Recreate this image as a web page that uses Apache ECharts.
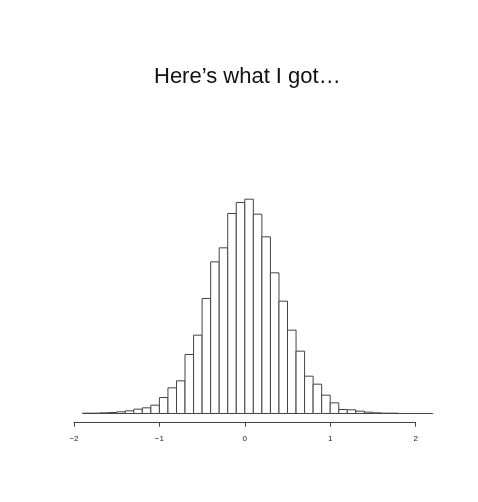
<!DOCTYPE html>
<html><head><meta charset="utf-8">
<script src="https://cdn.jsdelivr.net/npm/echarts@6/dist/echarts.min.js"></script>
<style>html,body{margin:0;padding:0;background:#fff}#c{width:478px;height:502px}</style>
</head><body><div id="c"></div>
<script>
// bin lower edges (width 0.1) and bar heights
const binStarts = [-1.9,-1.8,-1.7,-1.6,-1.5,-1.4,-1.3,-1.2,-1.1,-1.0,-0.9,-0.8,-0.7,-0.6,-0.5,-0.4,-0.3,-0.2,-0.1,
  0.0,0.1,0.2,0.3,0.4,0.5,0.6,0.7,0.8,0.9,1.0,1.1,1.2,1.3,1.4,1.5,1.6,1.7,1.8,1.9,2.0,2.1];
const counts = [1,1,2,3,5,8,13,17,25,48,77,98,177,235,345,455,497,600,633,
  643,598,530,422,337,250,187,112,88,55,32,12,11,7,4,2,1,1,0,0,0,0];
const binWidth = 0.1;
const tickValues = [-2,-1,0,1,2];
const title = 'Here\u2019s what I got\u2026';

const data = binStarts.map((s,i)=>[s, s+binWidth, counts[i]]);
const chart = echarts.init(document.getElementById('c'));
const lineColor = '#444';
chart.setOption({
  backgroundColor:'#fff',
  animation:false,
  title:{text:title,left:149,top:61,
    textStyle:{fontFamily:'Liberation Sans, Arial, sans-serif',fontSize:22,fontWeight:'normal',color:'#111'}},
  grid:[
    {left:74,width:358.7,top:198.5,height:215,containLabel:false},
    {left:74,width:341.6,top:300,height:122.7,containLabel:false}
  ],
  xAxis:[
    {gridIndex:0,type:'value',min:-2,max:2.2,show:false},
    {gridIndex:1,type:'value',min:-2,max:2,interval:1,
      axisLine:{show:true,lineStyle:{color:lineColor,width:1}},
      axisTick:{show:true,length:4,lineStyle:{color:lineColor}},
      splitLine:{show:false},
      axisLabel:{margin:12,fontSize:8,color:'#222',fontFamily:'Liberation Sans, Arial, sans-serif',
        formatter:v=>tickValues.includes(v)?String(v).replace('-','\u2212'):''}}
  ],
  yAxis:[
    {gridIndex:0,type:'value',min:0,max:645,show:false},
    {gridIndex:1,type:'value',show:false}
  ],
  series:[{
    type:'custom',xAxisIndex:0,yAxisIndex:0,
    data:data,
    encode:{x:[0,1],y:2},
    renderItem:function(params,api){
      const p0 = api.coord([api.value(0),0]);
      const p1 = api.coord([api.value(1),api.value(2)]);
      return {type:'rect',shape:{x:p0[0],y:p1[1],width:p1[0]-p0[0],height:p0[1]-p1[1]},
        style:{fill:'#fff',stroke:lineColor,lineWidth:1}};
    }
  }]
});
</script></body></html>
